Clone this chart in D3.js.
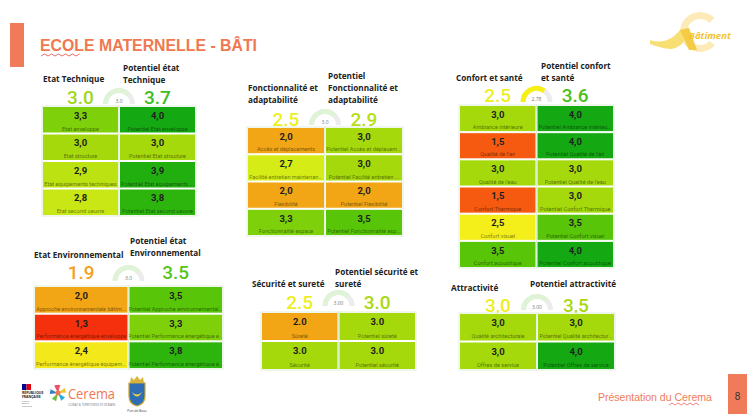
<!DOCTYPE html>
<html><head><meta charset="utf-8">
<script src="https://cdn.jsdelivr.net/npm/d3@7"></script>
<style>body{margin:0;background:#fff;} svg{display:block;}</style>
</head><body><svg id="c" width="747" height="414"></svg>
<script>
// ---------------- DATA ----------------
const pageTitle = "ECOLE MATERNELLE - BÂTI";
const footerText = "Présentation du Cerema";
const pageNumber = "8";

const leftTitles = [["Etat Technique"],["Fonctionnalité et","adaptabilité"],["Confort et santé"],["Etat Environnemental"],["Sécurité et sureté"],["Attractivité"]];
const rightTitles = [["Potentiel état","Technique"],["Potentiel","Fonctionnalité et","adaptabilité"],["Potentiel confort","et santé"],["Potentiel état","Environnemental"],["Potentiel sécurité et","sureté"],["Potentiel attractivité"]];
const currentScores = [3.0, 2.5, 2.5, 1.9, 2.5, 3.0];
const potentialScores = [3.7, 2.9, 3.6, 3.5, 3.0, 3.5];
const gaugeValues = [3.0, 3.0, 2.78, 3.0, 3.0, 3.0];
const gaugeLabels = ["3.0", "3.0", "2.78", "3.0", "3.00", "3.00"];
const gaugeMax = 4;

const techCategories = ["Etat enveloppe","Etat structure","Etat equipements techniques","Etat second oeuvre"];
const techValues = [3.3, 3.0, 2.9, 2.8];
const techPotCategories = ["Potentiel Etat enveloppe","Potentiel Etat structure","Potentiel Etat equipements ...","Potentiel Etat second oeuvre"];
const techPotValues = [4.0, 3.0, 3.9, 3.8];

const fonctCategories = ["Accès et déplacements","Facilité entretien maintenan...","Flexibilité","Fonctionnalité espace"];
const fonctValues = [2.0, 2.7, 2.0, 3.3];
const fonctPotCategories = ["Potentiel Accès et déplacem...","Potentiel Facilité entretien ...","Potentiel Flexibilité","Potentiel Fonctionnalité esp..."];
const fonctPotValues = [3.0, 3.0, 2.0, 3.5];

const confortCategories = ["Ambiance intérieure","Qualité de l'air","Qualité de l'eau","Confort Thermique","Confort visuel","Confort acoustique"];
const confortValues = [3.0, 1.5, 3.0, 1.5, 2.5, 3.5];
const confortPotCategories = ["Potentiel Ambiance intérieu...","Potentiel  Qualité de l'air","Potentiel Qualité de l'eau","Potentiel Confort Thermique","Potentiel Confort visuel","Potentiel Confort acoustique"];
const confortPotValues = [4.0, 4.0, 3.0, 3.0, 3.5, 4.0];

const envCategories = ["Approche environnementale bâtim...","Performance énergétique enveloppe","Performance énergétique équipem..."];
const envValues = [2.0, 1.3, 2.4];
const envPotCategories = ["Potentiel Approche environnemental...","Potentiel Performance énergétique e...","Potentiel Performance énergétique é..."];
const envPotValues = [3.5, 3.3, 3.8];

const secuCategories = ["Sûreté","Sécurité"];
const secuValues = [2.0, 3.0];
const secuPotCategories = ["Potentiel sûreté","Potentiel sécurité"];
const secuPotValues = [3.0, 3.0];

const attrCategories = ["Qualité architecturale","Offres de service"];
const attrValues = [3.0, 3.0];
const attrPotCategories = ["Potentiel Qualité architectur...","Potentiel Offres de service"];
const attrPotValues = [3.0, 4.0];

const panelCells = [
  [techCategories, techValues, techPotCategories, techPotValues],
  [fonctCategories, fonctValues, fonctPotCategories, fonctPotValues],
  [confortCategories, confortValues, confortPotCategories, confortPotValues],
  [envCategories, envValues, envPotCategories, envPotValues],
  [secuCategories, secuValues, secuPotCategories, secuPotValues],
  [attrCategories, attrValues, attrPotCategories, attrPotValues]
];

// ---------------- STYLE / LAYOUT ----------------
const cellSep = [",", ",", ",", ",", ".", ","];
const scoreSep = [".", ".", ".", ".", ".", ","];
const scoreColorsLeft = ["#9fd61c", "#eef01e", "#eeee1e", "#f5a01e", "#eeee1e", "#eeee1e"];
const scoreColorsRight = ["#3cbe1e", "#b5de16", "#4cc01a", "#58c41a", "#a8d814", "#a8d814"];
const gaugeColors = ["#dff3d6", "#dff3d6", "#f5ef14", "#dff3d6", "#dff3d6", "#dff3d6"];

const layout = [
  {x0:42, x1:196, y0:106, y1:216, lx:43, rx:123, lt:82, rt:83, sy:97, gy:104},
  {x0:247, x1:403, y0:127, y1:236, lx:248, rx:328, lt:103, rt:103, sy:119, gy:125},
  {x0:459, x1:614, y0:105, y1:268, lx:456, rx:541, lt:81, rt:81, sy:95, gy:102},
  {x0:34, x1:223, y0:286, y1:369, lx:34, rx:130, lt:258, rt:256, sy:272, gy:281},
  {x0:261, x1:416, y0:312, y1:370, lx:252, rx:335, lt:287, rt:287, sy:302, gy:306},
  {x0:459, x1:615, y0:313, y1:370, lx:451, rx:530, lt:291, rt:287, sy:305, gy:310}
];

const color = d3.scaleLinear()
  .domain([1.3, 1.5, 2.0, 2.4, 2.5, 2.7, 2.9, 3.0, 3.3, 3.5, 3.8, 4.0])
  .range(["#f5300c","#f55a10","#f2a515","#f2e81a","#f4ee1a","#d6ec16","#bce212","#a5d90c","#7ed10a","#58c508","#2db50e","#14a912"])
  .clamp(true);

const svg = d3.select("#c");
const FONT = "'Open Sans', 'Noto Sans', sans-serif";
const NUMFONT = "Roboto, 'Noto Sans', sans-serif";

// header
svg.append("rect").attr("x",10).attr("y",23).attr("width",14).attr("height",44).attr("fill","#f07b5a");
svg.append("text").attr("x",40).attr("y",51).attr("font-family","'Liberation Sans', Arial, sans-serif")
  .attr("font-weight","bold").attr("font-size",16).attr("textLength",217).attr("lengthAdjust","spacingAndGlyphs")
  .attr("fill","#f07850").text(pageTitle);
svg.append("path").attr("d", d3.range(0,12).map((i)=>`${i===0?"M":"L"}${41+i*3.5},${i%2?54:56}`).join(""))
  .attr("fill","none").attr("stroke","#e03030").attr("stroke-width",0.7);

// Bâtiment logo
const logo = svg.append("g");
logo.append("path").attr("d", d3.arc().innerRadius(13).outerRadius(20).startAngle(2.3).endAngle(Math.PI*2+0.8)())
  .attr("transform","translate(700,32)").attr("fill","#fcebb8");
logo.append("path").attr("d","M650,40 C662,44 672,40 680,30 L689,28 C686,40 682,47 672,49 C664,49 656,46 650,44 Z").attr("fill","#f8df74");
logo.append("path").attr("d","M680,30 L689,28 L697,50 L689,50 Z").attr("fill","#f5cc45");
logo.append("text").attr("x",689).attr("y",39).attr("font-family",FONT).attr("font-weight","bold").attr("font-style","italic")
  .attr("font-size",9.5).attr("fill","#f3c431").text("Bâtiment");

// panels
const arc = d3.arc();
layout.forEach((L, p) => {
  const g = svg.append("g");
  const [lc, lv, rc, rv] = panelCells[p];
  const xs = d3.scaleBand().domain(["cur","pot"]).range([L.x0, L.x1]);
  const ys = d3.scaleBand().domain(d3.range(lv.length)).range([L.y0, L.y1]);
  const h = ys.bandwidth();
  const xm = xs("pot");
  const fmt = (v, sep) => d3.format(".1f")(v).replace(".", sep);

  leftTitles[p].forEach((t, i, a) => g.append("text").attr("x", L.lx).attr("y", L.lt - (a.length-1-i)*12)
    .attr("font-family",FONT).attr("font-weight",700).attr("font-size",8.2).attr("fill","#222").text(t));
  rightTitles[p].forEach((t, i, a) => g.append("text").attr("x", L.rx).attr("y", L.rt - (a.length-1-i)*12)
    .attr("font-family",FONT).attr("font-weight",700).attr("font-size",8.2).attr("fill","#222").text(t));

  g.append("text").attr("x", xs("cur")+xs.bandwidth()/2).attr("y", L.sy+7).attr("text-anchor","middle")
    .attr("font-family",NUMFONT).attr("font-weight",500).attr("font-size",19).attr("fill",scoreColorsLeft[p])
    .text(fmt(currentScores[p], scoreSep[p]));
  g.append("text").attr("x", xs("pot")+xs.bandwidth()/2).attr("y", L.sy+7).attr("text-anchor","middle")
    .attr("font-family",NUMFONT).attr("font-weight",500).attr("font-size",19).attr("fill",scoreColorsRight[p])
    .text(fmt(potentialScores[p], scoreSep[p]));

  const gs = d3.scaleLinear().domain([0, gaugeMax]).range([-Math.PI/2, Math.PI/2]);
  const gg = g.append("g").attr("transform", `translate(${xm},${L.gy})`);
  gg.append("path").attr("d", arc({innerRadius:11, outerRadius:16, startAngle:gs(0), endAngle:gs(gaugeMax)})).attr("fill","#ececec");
  gg.append("path").attr("d", arc({innerRadius:11, outerRadius:16, startAngle:gs(0), endAngle:gs(gaugeValues[p])})).attr("fill",gaugeColors[p]);
  gg.append("text").attr("x",0).attr("y",-1.5).attr("text-anchor","middle").attr("font-family",FONT)
    .attr("font-size",5).attr("fill","#777").text(gaugeLabels[p]);

  const cols = [["cur", lc, lv], ["pot", rc, rv]];
  cols.forEach(([key, cats, vals]) => {
    vals.forEach((v, i) => {
      const x = xs(key), y = ys(i), w = xs.bandwidth();
      g.append("rect").attr("x", x+0.5).attr("y", y+0.5).attr("width", w-1).attr("height", h-1)
        .attr("fill", color(v)).attr("stroke","#fff").attr("stroke-width",1);
      g.append("text").attr("x", x+w/2).attr("y", y+h*0.35+3.3).attr("text-anchor","middle")
        .attr("font-family",NUMFONT).attr("font-weight",700).attr("font-size",9.5).attr("fill","#1e1e1e")
        .text(fmt(v, cellSep[p]));
      g.append("text").attr("x", x+w/2).attr("y", y+h*0.82+2).attr("text-anchor","middle")
        .attr("font-family",NUMFONT).attr("font-size",5.6).attr("fill","#000").attr("fill-opacity",0.5)
        .text(cats[i]);
    });
    g.append("rect").attr("x", xs(key)).attr("y", L.y0).attr("width", xs.bandwidth()).attr("height", L.y1-L.y0)
      .attr("fill","none").attr("stroke","#d8ecd0").attr("stroke-width",0.8);
  });
});

// footer
const f = svg.append("g");
f.append("rect").attr("x",22).attr("y",384).attr("width",4.5).attr("height",6).attr("fill","#000091");
f.append("rect").attr("x",26.5).attr("y",384).attr("width",4.5).attr("height",6).attr("fill","#e1000f");
["RÉPUBLIQUE","FRANÇAISE"].forEach((t,i)=>f.append("text").attr("x",22).attr("y",394+i*3.6)
  .attr("font-family",FONT).attr("font-weight",700).attr("font-size",3.4).attr("fill","#222").text(t));
["Liberté","Égalité","Fraternité"].forEach((t,i)=>f.append("text").attr("x",22).attr("y",401.5+i*2.6)
  .attr("font-family",FONT).attr("font-size",2.2).attr("fill","#555").text(t));
const star = f.append("g").attr("transform","translate(58,393)");
[["#f07850",-90],["#f5c32c",-20],["#2fa8d8",50],["#6cbf3f",120],["#3a7fc2",190],["#e94f6a",260]].forEach(([c,a])=>{
  star.append("path").attr("d","M0,0 L2.5,-8 L-2.5,-8 Z").attr("fill",c).attr("transform",`rotate(${a+90})`);
});
star.append("circle").attr("r",2.5).attr("fill","#f07850");
f.append("text").attr("x",68).attr("y",399).attr("font-family",FONT).attr("font-size",15)
  .attr("textLength",47).attr("lengthAdjust","spacingAndGlyphs").attr("fill","#f07850").text("Cerema");
f.append("text").attr("x",68).attr("y",406).attr("font-family",FONT).attr("font-size",2.8).attr("textLength",47)
  .attr("fill","#777").text("CLIMAT & TERRITOIRES DE DEMAIN");
f.append("path").attr("d","M129,383 L145,383 L145,396 Q145,404 137,406 Q129,404 129,396 Z").attr("fill","#2f6db5").attr("stroke","#c9a52a").attr("stroke-width",1.2);
f.append("path").attr("d","M130,383 L131,377 L134,380 L137,376 L140,380 L143,377 L144,383 Z").attr("fill","#d9b43a");
f.append("path").attr("d","M132,392 Q137,401 142,392 Q137,397 132,392 Z").attr("fill","#f3d34a");
f.append("text").attr("x",137).attr("y",412).attr("text-anchor","middle").attr("font-family",FONT).attr("font-size",3.2).attr("fill","#333").text("Port-de-Bouc");
f.append("text").attr("x",598).attr("y",401).attr("font-family","'Liberation Sans', Arial, sans-serif").attr("font-size",10.5).attr("fill","#f07b5a").text(footerText);
f.append("path").attr("d", d3.range(0,11).map((i)=>`${i===0?"M":"L"}${669+i*3},${i%2?403:405}`).join(""))
  .attr("fill","none").attr("stroke","#e03030").attr("stroke-width",0.6);
f.append("rect").attr("x",728).attr("y",374).attr("width",19).attr("height",40).attr("fill","#f07b5a");
f.append("text").attr("x",737.5).attr("y",400).attr("text-anchor","middle").attr("font-family","'Liberation Sans', Arial, sans-serif").attr("font-size",10).attr("fill","#333").text(pageNumber);
</script></body></html>
